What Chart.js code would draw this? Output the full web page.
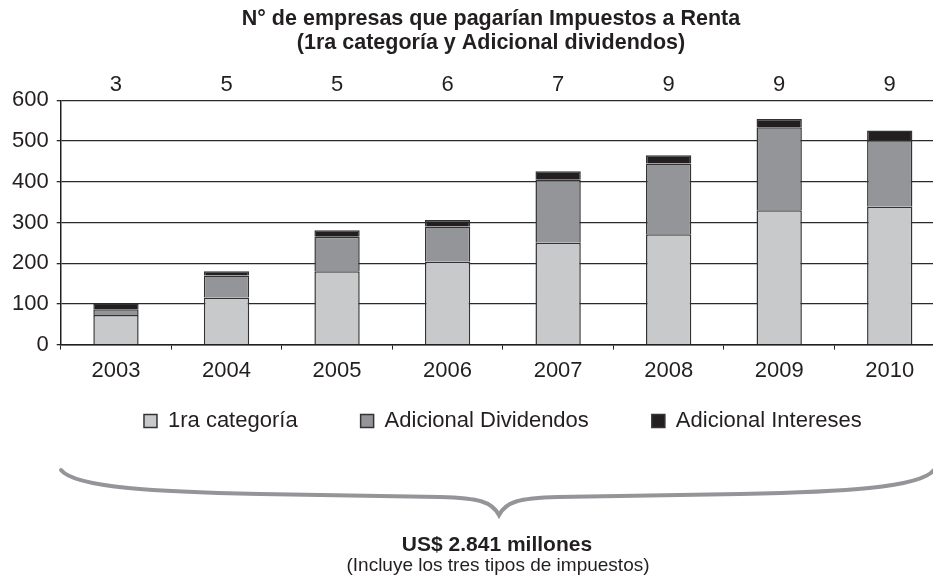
<!DOCTYPE html>
<html>
<head>
<meta charset="utf-8">
<script src="https://cdn.jsdelivr.net/npm/chart.js@4.4.1/dist/chart.umd.min.js"></script>
<style>
  html, body { margin: 0; padding: 0; background: #fff; overflow: hidden; }
  #wrap { width: 933px; height: 578px; overflow: hidden; }
</style>
</head>
<body>
<div id="wrap"><canvas id="myChart" width="946" height="578"></canvas></div>
<script>
const years = ['2003', '2004', '2005', '2006', '2007', '2008', '2009', '2010'];
const companies = ['3', '5', '5', '6', '7', '9', '9', '9'];
const primeraCategoria = [73, 116, 180, 204, 250, 271, 330, 339];
const adicionalDividendos = [14, 54, 85, 86, 155, 174, 204, 163];
const adicionalIntereses = [14, 10, 16, 16, 21, 20, 20, 24];

const titleLines = ['N° de empresas que pagarían Impuestos a Renta', '(1ra categoría y Adicional dividendos)'];
const totalText = 'US$ 2.841 millones';
const noteText = '(Incluye los tres tipos de impuestos)';

const textColor = '#231f20';
const fontFamily = "'Liberation Sans', Arial, sans-serif";

// titulo, llave y texto inferior
const extras = {
    id: 'extras',
    afterLayout(chart) {
        // subir la leyenda, el padding grande solo es para separar los items
        const lg = chart.legend;
        const shift = lg.top + lg.options.labels.padding + 11 - 421;
        lg.top -= shift;
        lg.bottom -= shift;
    },
    afterDraw(chart) {
        const ctx = chart.ctx;
        ctx.save();
        ctx.fillStyle = textColor;
        ctx.textAlign = 'center';
        ctx.textBaseline = 'middle';
        ctx.font = 'bold 21.5px ' + fontFamily;
        ctx.fillText(titleLines[0], 491, 19);
        ctx.fillText(titleLines[1], 491, 43);

        ctx.strokeStyle = '#939598';
        ctx.lineWidth = 4;
        ctx.lineCap = 'round';
        ctx.beginPath();
        ctx.moveTo(61, 470);
        ctx.bezierCurveTo(75, 488, 160, 492, 260, 494);
        ctx.lineTo(440, 497);
        ctx.bezierCurveTo(480, 498, 492, 502, 499, 515);
        ctx.bezierCurveTo(506, 502, 518, 498, 558, 497);
        ctx.lineTo(740, 494);
        ctx.bezierCurveTo(840, 492, 920, 488, 934, 470);
        ctx.stroke();

        ctx.font = 'bold 21px ' + fontFamily;
        ctx.fillText(totalText, 497, 545);
        ctx.font = '19px ' + fontFamily;
        ctx.fillText(noteText, 498, 566);
        ctx.restore();
    }
};

const barStyle = {
    borderColor: '#333',
    borderWidth: 1.5,
    categoryPercentage: 1,
    barPercentage: 0.41
};

const ctx = document.getElementById('myChart').getContext('2d');
const myChart = new Chart(ctx, {
    type: 'bar',
    data: {
        labels: years,
        datasets: [
            Object.assign({ label: '1ra categoría', data: primeraCategoria, backgroundColor: '#c8c9cb' }, barStyle),
            Object.assign({ label: 'Adicional Dividendos', data: adicionalDividendos, backgroundColor: '#939598' }, barStyle),
            Object.assign({ label: 'Adicional Intereses', data: adicionalIntereses, backgroundColor: '#231f20' }, barStyle)
        ]
    },
    options: {
        responsive: false,
        animation: false,
        layout: {
            padding: { top: 70, left: 4, right: 1, bottom: 91 }
        },
        scales: {
            x: {
                stacked: true,
                grid: { offset: true, drawOnChartArea: false, color: '#231f20', tickLength: 5 },
                border: { color: '#231f20', width: 1.5 },
                ticks: { color: textColor, font: { size: 22, family: fontFamily }, padding: 8, maxRotation: 0 }
            },
            x2: {
                type: 'category',
                labels: companies,
                position: 'top',
                offset: true,
                grid: { display: false, drawTicks: false },
                border: { display: false },
                ticks: { color: textColor, font: { size: 22, family: fontFamily }, padding: 2, maxRotation: 0 }
            },
            y: {
                stacked: true,
                min: 0,
                max: 600,
                ticks: { stepSize: 100, color: textColor, font: { size: 22, family: fontFamily }, padding: 8 },
                grid: { color: '#2a2a2a', lineWidth: 1.3, tickLength: 4 },
                border: { color: '#231f20', width: 1.5 }
            }
        },
        plugins: {
            legend: {
                position: 'bottom',
                fullSize: false,
                labels: {
                    color: textColor,
                    boxWidth: 13,
                    boxHeight: 13,
                    padding: 63,
                    font: { size: 22, family: fontFamily }
                }
            },
            tooltip: { enabled: false }
        }
    },
    plugins: [extras]
});
</script>
</body>
</html>
